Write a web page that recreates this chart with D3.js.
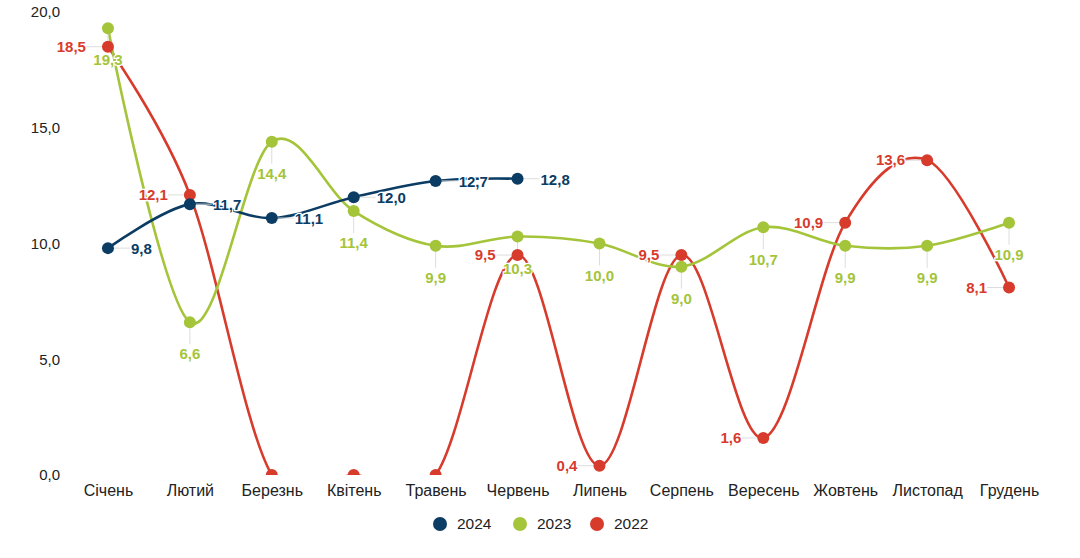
<!DOCTYPE html>
<html><head><meta charset="utf-8">
<script src="https://cdn.jsdelivr.net/npm/d3@7"></script>
<style>body{margin:0;background:#fff}svg{display:block;font-family:"Liberation Sans",Arial,sans-serif}</style>
</head><body><svg id="c" width="1080" height="558"></svg>
<script>
const months = ["Січень","Лютий","Березнь","Квітень","Травень","Червень","Липень","Серпень","Вересень","Жовтень","Листопад","Грудень"];
const yTicks = [0,5,10,15,20];
const values2024 = [9.8,11.7,11.1,12.0,12.7,12.8];
const values2023 = [19.3,6.6,14.4,11.4,9.9,10.3,10.0,9.0,10.7,9.9,9.9,10.9];
const values2022 = [18.5,12.1,0,0,0,9.5,0.4,9.5,1.6,10.9,13.6,8.1];
const seriesNames = ["2024","2023","2022"];
const colors = {"2024":"#0b3c63","2023":"#a4c43a","2022":"#d73b2c"};

const series = [
  {name:"2024", values:values2024, pos:"right"},
  {name:"2023", values:values2023, pos:"below"},
  {name:"2022", values:values2022, pos:"left"}
];
const svg = d3.select("#c");
const x = d3.scalePoint().domain(months).range([67,1050]).padding(0.5);
const y = d3.scaleLinear().domain([0,20]).range([475,12]);
const fmt = v => d3.format(".1f")(v).replace(".",",");

svg.append("defs").append("clipPath").attr("id","clip")
  .append("rect").attr("x",0).attr("y",0).attr("width",1080).attr("height",y(0));

// y axis
const ya = svg.append("g").attr("transform","translate(60,0)")
  .call(d3.axisLeft(y).tickValues(yTicks).tickFormat(fmt).tickSize(0).tickPadding(0));
ya.select(".domain").remove();
ya.selectAll("text").attr("font-size",15).attr("fill","#222").style("font-family","Liberation Sans, Arial, sans-serif");

// x axis
const xa = svg.append("g").attr("transform","translate(0,485)")
  .call(d3.axisBottom(x).tickSize(0).tickPadding(0));
xa.select(".domain").remove();
xa.selectAll("text").attr("font-size",16).attr("fill","#222").attr("dy","0.71em").style("font-family","Liberation Sans, Arial, sans-serif");

const line = d3.line().x((d,i)=>x(months[i])).y(d=>y(d)).curve(d3.curveCardinal.tension(0));
const plot = svg.append("g").attr("clip-path","url(#clip)");
const order = ["2022","2023","2024"];
order.forEach(n=>{
  const s = series.find(d=>d.name===n);
  plot.append("path").datum(s.values).attr("d",line)
    .attr("fill","none").attr("stroke",colors[n]).attr("stroke-width",2.6);
});

// labels with leader lines
const lab = svg.append("g");
series.forEach(s=>{
  s.values.forEach((v,i)=>{
    if(v===0) return;
    const px=x(months[i]), py=y(v);
    let lx1,ly1,tx,ty,anchor;
    if(s.pos==="right"){ lx1=px+22; ly1=py; tx=px+23; ty=py+1; anchor="start"; }
    else if(s.pos==="below"){ lx1=px; ly1=py+22; tx=px; ty=py+32; anchor="middle"; }
    else { lx1=px-22; ly1=py; tx=px-22; ty=py; anchor="end"; }
    lab.append("line").attr("x1",px).attr("y1",py).attr("x2",lx1).attr("y2",ly1)
      .attr("stroke","#ddd").attr("stroke-width",1);
    lab.append("text").attr("x",tx).attr("y",ty).attr("dy","0.35em").attr("text-anchor",anchor)
      .attr("font-size",15).attr("font-weight","bold").attr("fill",colors[s.name])
      .attr("stroke","#fff").attr("stroke-width",2.5).attr("paint-order","stroke")
      .text(fmt(v));
  });
});

// points
const pts = svg.append("g").attr("clip-path","url(#clip)");
order.forEach(n=>{
  const s = series.find(d=>d.name===n);
  pts.selectAll(null).data(s.values).enter().append("circle")
    .attr("cx",(d,i)=>x(months[i])).attr("cy",d=>y(d)).attr("r",6)
    .attr("fill",colors[n]);
});

// legend
const legX=[440,520,597];
const lg = svg.append("g");
seriesNames.forEach((n,i)=>{
  lg.append("circle").attr("cx",legX[i]).attr("cy",524).attr("r",7).attr("fill",colors[n]);
  lg.append("text").attr("x",legX[i]+17).attr("y",524).attr("dy","0.35em")
    .attr("font-size",15.5).attr("fill","#222").text(n);
});
</script></body></html>
